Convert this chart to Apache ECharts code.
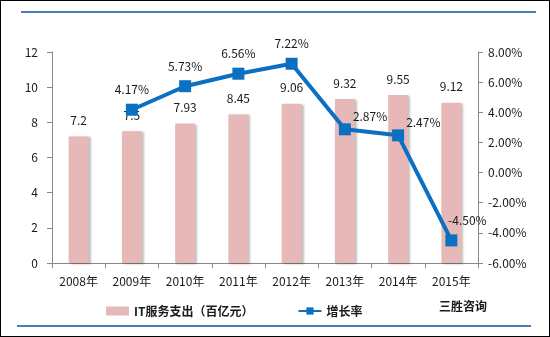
<!DOCTYPE html>
<html><head><meta charset="utf-8">
<script src="https://cdn.jsdelivr.net/npm/echarts@6/dist/echarts.min.js"></script>
<style>html,body{margin:0;padding:0;background:#fff}#c{width:550px;height:337px;box-sizing:border-box;border:1px solid #000}</style>
</head><body><div id="c"></div>
<script>
const categories = ['2008年','2009年','2010年','2011年','2012年','2013年','2014年','2015年'];
const spending = [7.2, 7.5, 7.93, 8.45, 9.06, 9.32, 9.55, 9.12];
const growth = [null, 4.17, 5.73, 6.56, 7.22, 2.87, 2.47, -4.50];
const leftTicks = [0, 2, 4, 6, 8, 10, 12];
const rightTicks = [-6, -4, -2, 0, 2, 4, 6, 8];

const chart = echarts.init(document.getElementById('c'), null, {renderer: 'canvas'});
const font = '"Noto Sans CJK SC", sans-serif';
const txt = '#1a1a1a';
const labelPos = ['top','top','top','top','top','right','right','top'];
chart.setOption({
  animation: false,
  textStyle: {fontFamily: font},
  grid: {left: 51, right: 71, top: 51, bottom: 73},
  graphic: [
    {type: 'line', shape: {x1: 20, y1: 11, x2: 535, y2: 11}, style: {stroke: '#4a7ebb', lineWidth: 2}},
    {type: 'line', shape: {x1: 16, y1: 325, x2: 530, y2: 325}, style: {stroke: '#4a7ebb', lineWidth: 2}},
    {type: 'text', left: 438, top: 299, style: {text: '三胜咨询', font: 'bold 12px ' + font, fill: '#1a1a1a'}}
  ],
  legend: {
    bottom: 14, left: 100, itemGap: 44, itemWidth: 23, itemHeight: 9,
    textStyle: {fontSize: 12, color: txt, fontWeight: 'bold', fontFamily: font},
    data: [
      {name: 'IT服务支出（百亿元）', icon: 'rect'},
      {name: '增长率'}
    ]
  },
  xAxis: {
    type: 'category', data: categories,
    axisLine: {lineStyle: {color: '#888'}},
    axisTick: {show: true, alignWithLabel: false, length: 5, lineStyle: {color: '#888'}},
    axisLabel: {color: txt, fontSize: 12, margin: 12}
  },
  yAxis: [
    {type: 'value', min: 0, max: 12, interval: 2, position: 'left',
     axisLine: {show: true, lineStyle: {color: '#888'}},
     axisTick: {show: true, length: 5, lineStyle: {color: '#888'}},
     splitLine: {show: false},
     axisLabel: {color: txt, fontSize: 12, margin: 14}},
    {type: 'value', min: -6, max: 8, interval: 2, position: 'right',
     axisLine: {show: true, lineStyle: {color: '#888'}},
     axisTick: {show: true, length: 5, lineStyle: {color: '#888'}},
     splitLine: {show: false},
     axisLabel: {color: txt, fontSize: 12, margin: 10, formatter: v => v.toFixed(2) + '%'}}
  ],
  series: [
    {name: 'IT服务支出（百亿元）', type: 'bar', data: spending, barWidth: 20,
     itemStyle: {color: '#e6b9b8', shadowColor: 'rgba(0,0,0,0.25)', shadowBlur: 2, shadowOffsetX: 2, shadowOffsetY: 1},
     label: {show: true, position: 'top', distance: 10, color: txt, fontSize: 12}},
    {name: '增长率', type: 'line', yAxisIndex: 1, data: growth.map((v, i) => ({
        value: v,
        label: {position: labelPos[i], distance: labelPos[i] === 'right' ? 2 : 8,
                offset: labelPos[i] === 'right' ? [0, -13] : (i === 7 ? [16, 0] : [0, 0])}
      })),
     connectNulls: false,
     symbol: 'rect', symbolSize: 12,
     lineStyle: {color: '#0b6fc2', width: 4},
     itemStyle: {color: '#0b6fc2'},
     label: {show: true, color: txt, fontSize: 12, formatter: p => p.value.toFixed(2) + '%'}}
  ]
});
</script></body></html>
